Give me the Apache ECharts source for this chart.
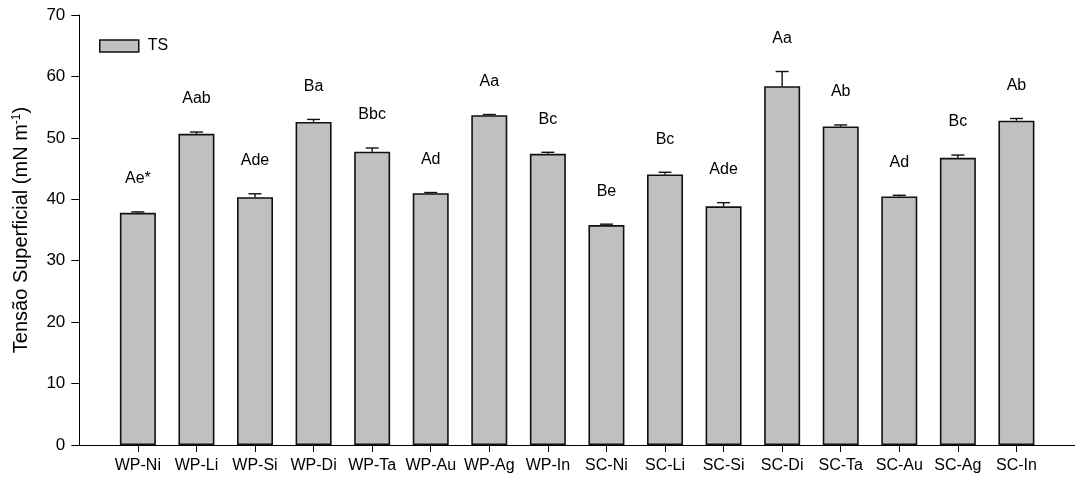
<!DOCTYPE html>
<html>
<head>
<meta charset="utf-8">
<script src="https://cdn.jsdelivr.net/npm/echarts@6/dist/echarts.min.js"></script>
<style>html,body{margin:0;padding:0;background:#fff}#c{width:1075px;height:483px}</style>
</head>
<body>
<div id="c"></div>
<script>
var categories = ['WP-Ni','WP-Li','WP-Si','WP-Di','WP-Ta','WP-Au','WP-Ag','WP-In','SC-Ni','SC-Li','SC-Si','SC-Di','SC-Ta','SC-Au','SC-Ag','SC-In'];
var tsValues = [37.8, 50.65, 40.35, 52.6, 47.75, 41.0, 53.7, 47.4, 35.8, 44.05, 38.85, 58.4, 51.85, 40.45, 46.75, 52.8];
var tsErrors = [0.15, 0.3, 0.55, 0.4, 0.6, 0.1, 0.1, 0.25, 0.15, 0.35, 0.6, 2.4, 0.25, 0.2, 0.45, 0.35];
var letters = ['Ae*','Aab','Ade','Ba','Bbc','Ad','Aa','Bc','Be','Bc','Ade','Aa','Ab','Ad','Bc','Ab'];
var yTicks = [0, 10, 20, 30, 40, 50, 60, 70];

var FONT = '"Liberation Sans", Arial, sans-serif';
var positions = categories.map(function (c, i) { return i + 1; });
var barData = tsValues.map(function (v, i) { return [positions[i], v]; });
var errData = tsValues.map(function (v, i) { return [positions[i], v, tsErrors[i], i]; });

var chart = echarts.init(document.getElementById('c'), null, {renderer: 'canvas'});
chart.setOption({
  animation: false,
  backgroundColor: '#fff',
  textStyle: {fontFamily: FONT},
  grid: {left: 79.3, top: 15, width: 1003, height: 430, containLabel: false},
  legend: {
    left: 99, top: 38, padding: 0, itemWidth: 39, itemHeight: 12, icon: 'rect',
    data: ['TS'],
    itemStyle: {color: '#c0c0c0', borderColor: '#111', borderWidth: 1.5},
    textStyle: {fontFamily: FONT, fontSize: 16, color: '#000', padding: [0, 0, 0, 4]}
  },
  xAxis: {
    type: 'value', min: 0, max: positions.length + 1, interval: 1,
    splitLine: {show: false},
    axisLine: {show: true, onZero: false, lineStyle: {color: '#000', width: 1}},
    axisTick: {show: true, customValues: positions, length: 7, lineStyle: {color: '#000', width: 1}},
    axisLabel: {
      customValues: positions, margin: 13, color: '#000', fontSize: 16, fontFamily: FONT,
      formatter: function (v) { return categories[v - 1] || ''; }
    }
  },
  yAxis: {
    type: 'value', min: yTicks[0], max: yTicks[yTicks.length - 1], interval: 10,
    splitLine: {show: false},
    axisLine: {show: true, onZero: false, lineStyle: {color: '#000', width: 1}},
    axisTick: {show: true, inside: false, length: 8, lineStyle: {color: '#000', width: 1}},
    axisLabel: {margin: 14, color: '#000', fontSize: 17, fontFamily: FONT},
    name: '{a|Tensão Superficial (mN m}{s|-1}{a|)}',
    nameLocation: 'middle', nameGap: 47,
    nameTextStyle: {
      rich: {
        a: {fontSize: 20, fontFamily: FONT, color: '#000'},
        s: {fontSize: 12, fontFamily: FONT, color: '#000', padding: [0, 0, 10, 0]}
      }
    }
  },
  series: [
    {
      name: 'TS', type: 'bar', data: barData, barWidth: 36,
      itemStyle: {color: '#c0c0c0', borderColor: '#111', borderWidth: 1.6}
    },
    {
      name: 'err', type: 'custom', data: errData, z: 3,
      renderItem: function (params, api) {
        var x = api.value(0), v = api.value(1), e = api.value(2), idx = api.value(3);
        var p0 = api.coord([x, v]);
        var p1 = api.coord([x, v + e]);
        var hw = 6.5;
        return {
          type: 'group',
          children: [
            {type: 'line', shape: {x1: p0[0], y1: p0[1], x2: p1[0], y2: p1[1]}, style: {stroke: '#111', lineWidth: 1.4}},
            {type: 'line', shape: {x1: p1[0] - hw, y1: p1[1], x2: p1[0] + hw, y2: p1[1]}, style: {stroke: '#111', lineWidth: 1.4}},
            {type: 'text', x: p1[0], y: p1[1] - 33,
             style: {text: letters[idx], fill: '#000', font: '16px ' + FONT, align: 'center', verticalAlign: 'middle'}}
          ]
        };
      }
    }
  ]
});
</script>
</body>
</html>
